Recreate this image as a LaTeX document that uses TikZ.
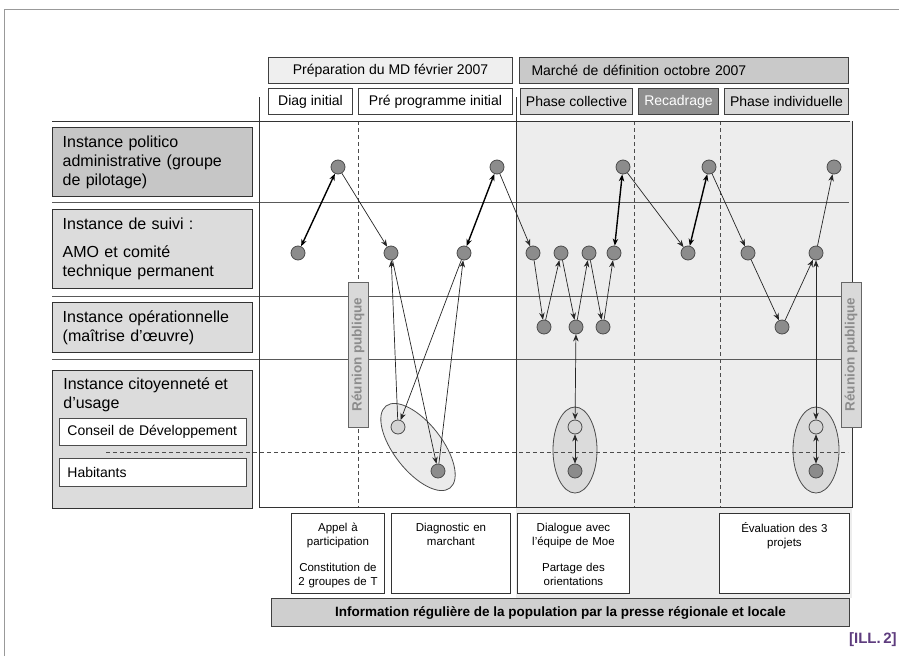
\documentclass[tikz,border=0pt]{standalone}
\usepackage{fontspec}
\setmainfont{Liberation Sans}
\usetikzlibrary{arrows.meta,positioning,shapes.geometric,calc}
\definecolor{prepfill}{HTML}{EFEFEF}
\definecolor{marchefill}{HTML}{C9C9C9}
\definecolor{phasefill}{HTML}{D9D9D9}
\definecolor{recafill}{HTML}{8F8F8F}
\definecolor{areafill}{HTML}{EDEDED}
\definecolor{boxdark}{HTML}{C6C6C6}
\definecolor{boxlight}{HTML}{DCDCDC}
\definecolor{dotdark}{HTML}{8C8C8C}
\definecolor{dotlight}{HTML}{D4D4D4}
\definecolor{barfill}{HTML}{CFCFCF}
\definecolor{illcol}{HTML}{5E3C7E}

\begin{document}
\begin{tikzpicture}
  [x=1pt, y=-1pt, line width=0.8pt, >={Stealth[length=7pt,width=5.5pt]},
   hdr/.style={draw=black!75, line width=1pt, anchor=north west, inner sep=0pt,
     minimum height=26pt, font=\fontsize{14}{16}\selectfont},
   sub/.style={hdr, fill=white},
   gridline/.style={draw=black!80, line width=1pt},
   rowline/.style={draw=black!65, line width=0.9pt},
   dashline/.style={draw=black!70, line width=0.8pt, dash pattern=on 4pt off 3pt},
   lbl/.style={draw=black!80, line width=1.4pt, fill=boxlight, anchor=north west,
     inner xsep=10pt, inner ysep=0pt, text width=180pt, align=left,
     font=\fontsize{16}{19}\selectfont},
   inbox/.style={draw=black!70, line width=0.9pt, fill=white, anchor=north west,
     inner xsep=8pt, inner ysep=0pt, text width=171pt, align=left,
     font=\fontsize{14}{16}\selectfont},
   reunion/.style={draw=black!60, line width=0.9pt, fill=phasefill, rotate=90,
     minimum width=145pt, minimum height=20pt, inner sep=0pt, text=black!45,
     font=\bfseries\fontsize{13.5}{15}\selectfont},
   dot/.style={circle, draw=black!70, line width=0.8pt, fill=dotdark,
     minimum size=14pt, inner sep=0pt},
   litedot/.style={dot, fill=dotlight},
   zone/.style={draw=black!70, line width=0.8pt, fill=#1},
   botbox/.style={draw=black!80, line width=0.9pt, fill=white, anchor=north west,
     minimum height=80pt, inner sep=0pt},
   bottxt/.style={anchor=north, inner sep=0pt, align=center,
     font=\fontsize{11.5}{14}\selectfont},
   link/.style={->, draw=black!85, line width=0.7pt},
   linkboth/.style={<->, draw=black!85, line width=0.7pt},
   duplex/.style={<->, draw=black, line width=1.4pt}]

\useasboundingbox (0,0) rectangle (899,656);
\draw[draw=black!40, line width=1pt] (4,656) -- (4,9) -- (899,9);

% headers
\node[hdr, fill=prepfill, minimum width=244pt] (prep) at (268,57) {Préparation du MD février 2007};
\node[hdr, fill=marchefill, minimum width=329pt, text width=305pt, align=left] (marche) at (519,57) {Marché de définition octobre 2007};

\node[sub, minimum width=84pt] (diag) at (268,88) {Diag initial};
\node[sub, minimum width=154pt] (prepro) at (358,88) {Pré programme initial};
\node[sub, fill=phasefill, minimum width=112pt] (coll) at (520,88) {Phase collective};
\node[sub, fill=recafill, text=white, minimum width=80pt] (recad) at (638,88) {Recadrage};
\node[sub, fill=phasefill, minimum width=124pt] (indiv) at (724,88) {Phase individuelle};

% grid
\fill[areafill] (516,121) rectangle (852,598);
\foreach \y in {202,296,359}
  \draw[rowline] (52,\y) -- (849,\y);
\foreach \x in {358,634,720}
  \draw[dashline] (\x,121) -- (\x,507);
\draw[gridline] (52,121) -- (850,121);
\draw[gridline] (259,97) -- (259,507) -- (852,507) -- (852,121);
\draw[gridline] (516,97) -- (516,507);

% instances
\node[lbl, fill=boxdark, minimum height=69pt] (politico) at (52,127) {Instance politico\\administrative (groupe\\de pilotage)};
\node[lbl, minimum height=79pt] (suivi) at (52,209) {Instance de suivi :\\[9pt]AMO et comité\\technique permanent};
\node[lbl, minimum height=50pt] (oper) at (52,302) {Instance opérationnelle\\(maîtrise d'œuvre)};
\node[lbl, minimum height=138pt] (citoy) at (52,370) {};
\node[anchor=north west, inner sep=0pt, align=left, font=\fontsize{16}{19}\selectfont] (citoytxt)
  at ($(citoy.north west)+(11,7)$) {Instance citoyenneté et\\d'usage};
\node[inbox, minimum height=27pt] (conseil) at (59,418) {Conseil de Développement};
\node[inbox, minimum height=28pt] (habit) at (59,458) {Habitants};

% groups of citizens
\draw[zone=black!8, rotate around={-52:(418,447)}] (418,447) ellipse (52 and 24);
\draw[zone=black!14] (575,450) ellipse (22 and 43);
\draw[zone=black!14] (816,450) ellipse (23 and 43);
\draw[dashline, line width=0.9pt] (106,452) -- (848,452);

% dots
\foreach \n/\x in {p1/338, p2/497, p3/623, p4/709, p5/834}
  \node[dot] (\n) at (\x,167) {};
\foreach \n/\x in {s1/298, s2/391, s3/464, s4/533, s5/561, s6/589, s7/614, s8/688, s9/748, s10/816}
  \node[dot] (\n) at (\x,253) {};
\foreach \n/\x in {o1/544, o2/576, o3/603, o4/782}
  \node[dot] (\n) at (\x,327) {};
\foreach \n/\x in {c1/398, c2/575, c3/816}
  \node[litedot] (\n) at (\x,427) {};
\node[dot] (h1) at (438,471) {};
\node[dot] (h2) at (575,471) {};
\node[dot] (h3) at (816,471) {};

% flows
\draw[duplex] (s1) -- (p1);
\draw[link] (p1) -- (s2);
\draw[link] (c1) -- (s2);
\draw[link] (s2) -- (h1);
\draw[link] (h1) -- (s3);
\draw[link] (s3) -- (c1);
\draw[duplex] (s3) -- (p2);
\draw[link] (p2) -- (s4);
\foreach \a/\b in {s4/o1, o1/s5, s5/o2, o2/s6, s6/o3, o3/s7}
  \draw[link] (\a) -- (\b);
\draw[linkboth] (o2) -- (c2);
\draw[linkboth] (c2) -- (h2);
\draw[duplex] (s7) -- (p3);
\draw[link] (p3) -- (s8);
\draw[duplex] (s8) -- (p4);
\foreach \a/\b in {p4/s9, s9/o4, o4/s10, s10/p5}
  \draw[link] (\a) -- (\b);
\draw[linkboth] (s10) -- (c3);
\draw[linkboth] (c3) -- (h3);

% public meetings
\node[reunion] (reun1) at (358,354.5) {Réunion publique};
\node[reunion] (reun2) at (851,354.5) {Réunion publique};

% actions
\node[botbox, minimum width=93pt] (appel) at (291,513) {};
\node[bottxt, text width=91pt] (appeltxt) at ($(appel.north)+(0,10)$) {Appel à\\participation\\[12pt]Constitution de\\2 groupes de T};
\node[botbox, minimum width=119pt] (diagmar) at (391,513) {};
\node[bottxt, text width=117pt] (diagmartxt) at ($(diagmar.north)+(0,10)$) {Diagnostic en\\marchant};
\node[botbox, minimum width=112pt] (dialog) at (517,513) {};
\node[bottxt, text width=110pt] (dialogtxt) at ($(dialog.north)+(0,10)$) {Dialogue avec\\l'équipe de Moe\\[12pt]Partage des\\orientations};
\node[botbox, minimum width=130pt] (evalu) at (719,513) {};
\node[bottxt, text width=128pt] (evalutxt) at ($(evalu.north)+(0,9)$) {Évaluation des 3\\projets};

\node[draw=black!75, line width=1pt, fill=barfill, anchor=north west, minimum width=578pt,
  minimum height=28pt, inner sep=0pt, font=\bfseries\fontsize{13.5}{15}\selectfont] (info)
  at (271,598) {Information régulière de la population par la presse régionale et locale};

\node[anchor=east, inner sep=0pt, text=illcol, font=\bfseries\fontsize{15}{17}\selectfont] (ill)
  at (897,640) {[ILL.\,2]};
\end{tikzpicture}
\end{document}
